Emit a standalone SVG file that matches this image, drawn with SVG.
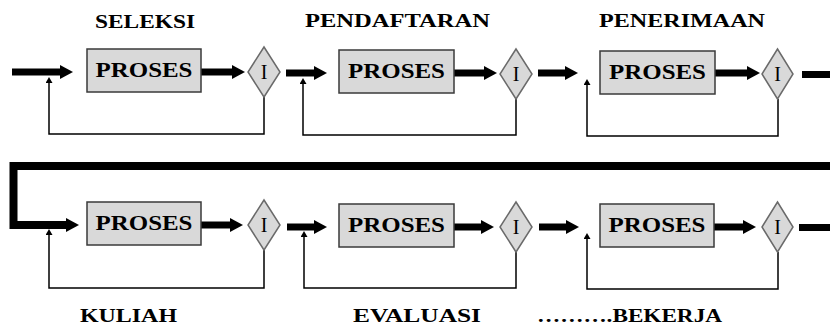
<svg xmlns="http://www.w3.org/2000/svg" width="830" height="327" viewBox="0 0 830 327">
  <style>
    .box { fill: #d9d9d9; stroke: #3a3a3a; stroke-width: 1.5; }
    .dia { fill: #d9d9d9; stroke: #6a6a6a; stroke-width: 1.5; }
    .flow { stroke: #000; stroke-width: 7; fill: none; }
    .loop { stroke: #000; stroke-width: 1.5; fill: none; }
    .big { stroke: #000; stroke-width: 8; fill: none; stroke-linejoin: miter; }
    .ptxt { font-weight: bold; font-size: 21px; text-anchor: middle; fill: #000; }
    .itxt { font-size: 20px; text-anchor: middle; fill: #000; }
    .lbl { font-weight: bold; font-size: 18px; fill: #000; }
  </style>
  <defs>
    <marker id="head" markerUnits="userSpaceOnUse" viewBox="0 0 13 14" markerWidth="13" markerHeight="14" refX="1" refY="7" orient="auto">
      <path d="M0,0 L13,7 L0,14 z" fill="#000"/>
    </marker>
    <marker id="tip" markerUnits="userSpaceOnUse" viewBox="0 0 6 7" markerWidth="6" markerHeight="7" refX="1" refY="3.5" orient="auto">
      <path d="M0,0 L6,3.5 L0,7 z" fill="#000"/>
    </marker>
  </defs>

  <!-- connectors -->
  <g id="connectors">
    <!-- row 1 -->
    <line class="flow" x1="12" y1="72" x2="61" y2="72" marker-end="url(#head)"/>
    <line class="flow" x1="201" y1="72" x2="233" y2="72" marker-end="url(#head)"/>
    <path class="loop" d="M264 97 V134 H49 V82" marker-end="url(#tip)"/>

    <line class="flow" x1="286" y1="73" x2="315" y2="73" marker-end="url(#head)"/>
    <line class="flow" x1="454" y1="73" x2="485" y2="73" marker-end="url(#head)"/>
    <path class="loop" d="M516 98 V135 H303 V83" marker-end="url(#tip)"/>

    <line class="flow" x1="538" y1="73" x2="566" y2="73" marker-end="url(#head)"/>
    <line class="flow" x1="715" y1="73" x2="748" y2="73" marker-end="url(#head)"/>
    <path class="loop" d="M778 99 V136 H587 V84" marker-end="url(#tip)"/>

    <line class="flow" x1="802" y1="74.5" x2="830" y2="74.5"/>

    <!-- return from row 1 to row 2 -->
    <path class="big" d="M830 166 H13.5 V225 H67" marker-end="url(#head)"/>

    <!-- row 2 -->
    <line class="flow" x1="201" y1="225" x2="231" y2="225" marker-end="url(#head)"/>
    <path class="loop" d="M264 250 V288 H49 V234" marker-end="url(#tip)"/>

    <line class="flow" x1="287" y1="227" x2="315" y2="227" marker-end="url(#head)"/>
    <line class="flow" x1="454" y1="227" x2="482" y2="227" marker-end="url(#head)"/>
    <path class="loop" d="M516 252 V288 H304 V236" marker-end="url(#tip)"/>

    <line class="flow" x1="539" y1="227" x2="567" y2="227" marker-end="url(#head)"/>
    <line class="flow" x1="714" y1="227" x2="744" y2="227" marker-end="url(#head)"/>
    <path class="loop" d="M778 252 V289 H587 V238" marker-end="url(#tip)"/>

    <line class="flow" x1="799" y1="227.5" x2="830" y2="227.5"/>
  </g>

  <g font-family="'Liberation Serif', Tinos, 'Nimbus Roman', 'FreeSerif', 'DejaVu Serif', serif">
  <!-- row 1 nodes -->
  <g id="seleksi">
    <text class="lbl" x="95" y="28" textLength="100" lengthAdjust="spacingAndGlyphs">SELEKSI</text>
    <rect class="box" x="87" y="49" width="114" height="43"/>
    <text class="ptxt" x="144" y="77" textLength="97" lengthAdjust="spacingAndGlyphs">PROSES</text>
    <polygon class="dia" points="264,47 280,72 264,97 248,72"/>
    <text class="itxt" x="264" y="79">I</text>
  </g>
  <g id="pendaftaran">
    <text class="lbl" x="305" y="27" textLength="185" lengthAdjust="spacingAndGlyphs">PENDAFTARAN</text>
    <rect class="box" x="339" y="50" width="115" height="43"/>
    <text class="ptxt" x="396.5" y="78" textLength="97" lengthAdjust="spacingAndGlyphs">PROSES</text>
    <polygon class="dia" points="516,49 532,74 516,99 500,74"/>
    <text class="itxt" x="516" y="81">I</text>
  </g>
  <g id="penerimaan">
    <text class="lbl" x="599" y="27" textLength="166" lengthAdjust="spacingAndGlyphs">PENERIMAAN</text>
    <rect class="box" x="600" y="51" width="115" height="43"/>
    <text class="ptxt" x="657.5" y="79" textLength="97" lengthAdjust="spacingAndGlyphs">PROSES</text>
    <polygon class="dia" points="777.5,49 793,74 777.5,99 762,74"/>
    <text class="itxt" x="777.5" y="81">I</text>
  </g>

  <!-- row 2 nodes -->
  <g id="kuliah">
    <rect class="box" x="87" y="202" width="114" height="43"/>
    <text class="ptxt" x="144" y="230" textLength="97" lengthAdjust="spacingAndGlyphs">PROSES</text>
    <polygon class="dia" points="264,200 280,225 264,250 248,225"/>
    <text class="itxt" x="264" y="232">I</text>
    <text class="lbl" x="80" y="322" textLength="97" lengthAdjust="spacingAndGlyphs">KULIAH</text>
  </g>
  <g id="evaluasi">
    <rect class="box" x="339" y="204" width="115" height="43"/>
    <text class="ptxt" x="396.5" y="232" textLength="97" lengthAdjust="spacingAndGlyphs">PROSES</text>
    <polygon class="dia" points="516,202 532,227 516,252 500,227"/>
    <text class="itxt" x="516" y="234">I</text>
    <text class="lbl" x="353" y="322" textLength="128" lengthAdjust="spacingAndGlyphs">EVALUASI</text>
  </g>
  <g id="bekerja">
    <rect class="box" x="600" y="204" width="114" height="43"/>
    <text class="ptxt" x="657" y="232" textLength="97" lengthAdjust="spacingAndGlyphs">PROSES</text>
    <polygon class="dia" points="777.5,202 793,227 777.5,252 762,227"/>
    <text class="itxt" x="777.5" y="234">I</text>
    <text class="lbl" x="537" y="322" textLength="185" lengthAdjust="spacingAndGlyphs">……….BEKERJA</text>
  </g>
  </g>
</svg>
